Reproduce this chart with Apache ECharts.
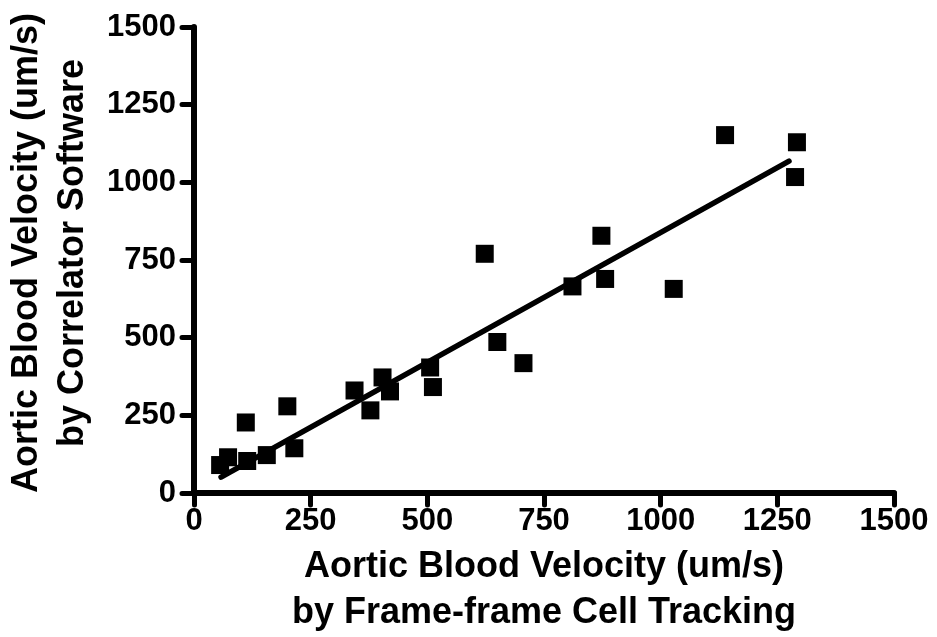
<!DOCTYPE html>
<html>
<head>
<meta charset="utf-8">
<script src="https://cdn.jsdelivr.net/npm/echarts@6/dist/echarts.min.js"></script>
<style>
html,body{margin:0;padding:0;background:#fff;}
#chart{width:937px;height:637px;}
</style>
</head>
<body>
<div id="chart"></div>
<script>
// Data
var trackingX = [56, 73, 114, 156, 111, 200, 215, 344, 378, 404, 420, 506, 512, 623, 650, 706, 811, 873, 881, 1028, 1138, 1292, 1288];
var correlatorY = [90, 115, 103, 122, 227, 279, 144, 330, 266, 372, 327, 404, 341, 770, 486, 418, 665, 828, 689, 657, 1152, 1129, 1017];
var fitX = [58, 1275];
var fitY = [51, 1068];
var tickValues = [0, 250, 500, 750, 1000, 1250, 1500];

var xTitle = 'Aortic Blood Velocity (um/s)\nby Frame-frame Cell Tracking';
var yTitle = 'Aortic Blood Velocity (um/s)\nby Correlator Software';

var pts = trackingX.map(function (x, i) { return [x, correlatorY[i]]; });
var fitPts = fitX.map(function (x, i) { return [x, fitY[i]]; });

var FONT = '"Liberation Sans", Arial, sans-serif';

function axis(nameGap, rotate, labelMargin) {
  return {
    type: 'value',
    min: tickValues[0], max: tickValues[tickValues.length - 1], interval: tickValues[1] - tickValues[0],
    name: '', nameLocation: 'middle', nameGap: nameGap, nameRotate: rotate,
    nameTextStyle: { fontFamily: FONT, fontWeight: 'bold', fontSize: 36, color: '#000', lineHeight: 46 },
    axisLine: { show: true, lineStyle: { color: '#000', width: 6, cap: 'round' } },
    axisTick: { show: true, length: 12, lineStyle: { color: '#000', width: 5, cap: 'round' } },
    axisLabel: { fontFamily: FONT, fontWeight: 'bold', fontSize: 31, color: '#000', margin: labelMargin,
      formatter: function (v) { return String(v); } },
    splitLine: { show: false }
  };
}

var xa = axis(51, 0, 13); xa.name = xTitle;
var ya = axis(92, 90, 18); ya.name = yTitle;
ya.nameTextStyle.padding = [0, 0, 0, 14];

var chart = echarts.init(document.getElementById('chart'), null, { renderer: 'canvas' });
chart.setOption({
  animation: false,
  backgroundColor: '#fff',
  grid: { left: 194, right: 43, top: 27, bottom: 144, containLabel: false, outerBoundsMode: 'none' },
  xAxis: xa,
  yAxis: ya,
  series: [
    {
      type: 'scatter',
      data: pts,
      symbol: 'rect',
      symbolSize: 18,
      itemStyle: { color: '#000', opacity: 1 },
      z: 3
    },
    {
      type: 'line',
      data: fitPts,
      showSymbol: false,
      symbol: 'none',
      lineStyle: { color: '#000', width: 5.5, cap: 'round' },
      z: 4
    }
  ]
});
</script>
</body>
</html>
